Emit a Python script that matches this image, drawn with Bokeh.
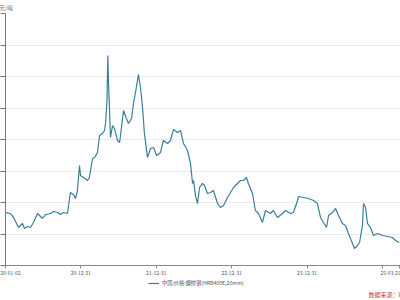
import pandas as pd
from bokeh.plotting import figure
from bokeh.layouts import column
from bokeh.models import FixedTicker, Legend, LegendItem, Title, Label, Range1d
from bokeh.embed import file_html
from bokeh.resources import INLINE

dates = [
    "2020-01-02","2020-01-26","2020-02-10","2020-03-05","2020-03-24","2020-04-03","2020-04-17","2020-05-02",
    "2020-05-16","2020-06-05","2020-06-10","2020-06-29","2020-07-14","2020-08-07","2020-08-21","2020-09-10",
    "2020-09-24","2020-10-09","2020-10-28","2020-11-11","2020-11-26","2020-12-06","2020-12-15","2020-12-25",
    "2020-12-30","2021-01-13","2021-02-02","2021-02-11","2021-02-26","2021-03-08","2021-03-22","2021-04-01",
    "2021-04-15","2021-04-25","2021-04-30","2021-05-07","2021-05-11","2021-05-14","2021-05-24","2021-06-03",
    "2021-06-12","2021-06-27","2021-07-07","2021-07-16","2021-07-26","2021-08-09","2021-08-19","2021-09-03",
    "2021-09-12","2021-09-22","2021-10-06","2021-10-16","2021-10-26","2021-11-04","2021-11-19","2021-12-04",
    "2021-12-18","2022-01-02","2022-01-21","2022-02-04","2022-02-24","2022-03-10","2022-03-25","2022-04-13",
    "2022-04-28","2022-05-12","2022-06-01","2022-06-15","2022-06-25","2022-06-30","2022-07-09","2022-07-19",
    "2022-07-29","2022-08-12","2022-08-22","2022-09-05","2022-09-20","2022-10-04","2022-10-24","2022-11-07",
    "2022-11-22","2022-12-11","2022-12-26","2023-01-09","2023-01-28","2023-02-12","2023-02-26","2023-03-13",
    "2023-03-22","2023-04-11","2023-04-25","2023-05-10","2023-05-29","2023-06-13","2023-07-07","2023-07-21",
    "2023-08-10","2023-09-03","2023-09-18","2023-10-12","2023-10-26","2023-11-15","2023-11-20","2023-12-14",
    "2024-01-07","2024-01-31","2024-02-19","2024-03-05","2024-03-19","2024-04-03","2024-04-13","2024-05-02",
    "2024-05-17","2024-05-31","2024-06-19","2024-07-04","2024-07-18","2024-08-07","2024-08-16","2024-08-31",
    "2024-09-10","2024-09-24","2024-09-29","2024-10-09","2024-10-18","2024-11-02","2024-11-16","2024-12-06",
    "2024-12-30","2025-01-23","2025-02-16","2025-03-03","2025-03-21",
]
prices = [
    3840, 3825, 3762, 3603, 3667, 3587, 3619, 3603,
    3683, 3825, 3810, 3746, 3810, 3825, 3857, 3841,
    3810, 3841, 3825, 4159, 4127, 4063, 4190, 4587,
    4429, 4397, 4349, 4397, 4698, 4714, 4794, 5063,
    5095, 5143, 5254, 5619, 6333, 5937, 5032, 5222,
    5175, 4984, 4952, 5190, 5460, 5333, 5254, 5333,
    5571, 5746, 6032, 5825, 5508, 5095, 4714, 4857,
    4873, 4746, 4794, 4984, 4937, 4984, 5159, 5111,
    5143, 4937, 4825, 4619, 4302, 4349, 4111, 3984,
    4238, 4302, 4270, 4143, 4159, 4190, 3984, 3921,
    3952, 4079, 4159, 4238, 4302, 4349, 4349, 4397,
    4302, 4143, 3873, 3825, 3683, 3873, 3825, 3873,
    3762, 3825, 3873, 3825, 3841, 4032, 4095, 4079,
    4063, 4032, 3984, 3762, 3683, 3603, 3794, 3841,
    3905, 3794, 3667, 3635, 3508, 3349, 3270, 3317,
    3365, 3635, 3984, 3921, 3667, 3603, 3476, 3508,
    3476, 3460, 3444, 3397, 3365,
]

tick_dates = ["2020-01-02", "2020-12-31", "2021-12-31", "2022-12-31", "2023-12-31", "2024-12-31", "2025-03-21"]
tick_labels = ["20-01-02", "20-12-31", "21-12-31", "22-12-31", "23-12-31", "", "25-03-21"]
y_ticks = [3000, 3500, 4000, 4500, 5000, 5500, 6000, 6500, 7000]
series_name = "中国:价格:螺纹钢(HRB400E,20mm)"
unit_text = "元/吨"
source_text = "数据来源：Wind"

FONT = "Noto Sans CJK SC"
LINE_COLOR = "#3a7f9a"

x = pd.to_datetime(dates)
tick_ms = [float(pd.Timestamp(d).value // 10**6) for d in tick_dates]
x_rng = Range1d(pd.Timestamp("2020-01-02"), pd.Timestamp("2025-03-27"))

# ---- main chart ----
p = figure(width=400, height=278, x_axis_type="datetime", output_backend="svg",
           toolbar_location=None, x_range=x_rng, y_range=Range1d(3000, 7000))
p.min_border_left = 5
p.min_border_right = 0
p.min_border_top = 13
p.min_border_bottom = 13
p.outline_line_color = None
p.background_fill_color = "white"
p.border_fill_color = "white"

r = p.line(x, prices, line_color=LINE_COLOR, line_width=1.2)

p.xaxis.ticker = FixedTicker(ticks=tick_ms)
p.xaxis.major_label_overrides = {t: l for t, l in zip(tick_ms, tick_labels)}
p.xaxis.minor_tick_line_color = None
p.xaxis.major_tick_out = 3
p.xaxis.major_tick_in = 0
p.xaxis.major_label_standoff = 2
p.xaxis.major_label_text_font = FONT
p.xaxis.major_label_text_font_size = "5px"
p.xaxis.major_label_text_color = "#555555"
p.xaxis.axis_line_color = "#888888"
p.xaxis.major_tick_line_color = "#888888"

p.yaxis.ticker = FixedTicker(ticks=y_ticks)
p.yaxis.minor_tick_line_color = None
p.yaxis.major_tick_out = 5
p.yaxis.major_tick_in = 0
p.yaxis.major_label_standoff = 0
p.yaxis.major_label_text_font_size = "0px"
p.yaxis.axis_line_color = "#777777"
p.yaxis.major_tick_line_color = "#777777"

p.xgrid.grid_line_color = None
p.ygrid.grid_line_color = "#ebebeb"
p.ygrid.ticker = FixedTicker(ticks=y_ticks)

unit = Title(text=unit_text, align="left", text_font=FONT, text_font_size="5.5px",
             text_color="#666666", text_font_style="normal", standoff=3, offset=-6)
p.add_layout(unit, "above")

# ---- footer: legend + source ----
f = figure(width=400, height=20, x_axis_type="datetime", output_backend="svg",
           toolbar_location=None, x_range=x_rng, y_range=Range1d(0, 1),
           x_axis_location=None, y_axis_location=None)
f.min_border_left = 0
f.min_border_right = 0
f.min_border_top = 0
f.min_border_bottom = 0
f.outline_line_color = None
f.xgrid.grid_line_color = None
f.ygrid.grid_line_color = None
r2 = f.line(x, prices, line_color=LINE_COLOR, line_width=1.2)

legend = Legend(items=[LegendItem(label=series_name, renderers=[r2])], location=(143, 12),
                orientation="horizontal")
legend.label_text_font = FONT
legend.label_text_font_size = "5.2px"
legend.label_text_color = "#555555"
legend.glyph_width = 11
legend.glyph_height = 6
legend.label_standoff = 3
legend.padding = 0
legend.margin = 0
legend.spacing = 0
legend.label_height = 6
legend.border_line_color = None
legend.background_fill_alpha = 0
f.add_layout(legend)

f.add_layout(Label(x=363, y=4, x_units="screen", y_units="screen", text=source_text,
                   text_align="left", text_baseline="middle", text_font=FONT,
                   text_font_size="6px", text_color="#c8403a"))

# ---- dark bottom edge ----
s = figure(width=400, height=2, output_backend="svg", toolbar_location=None,
           x_axis_location=None, y_axis_location=None,
           background_fill_color="#333333", border_fill_color="#333333")
s.min_border_left = 0
s.min_border_right = 0
s.min_border_top = 0
s.min_border_bottom = 0
s.outline_line_color = None
s.xgrid.grid_line_color = None
s.ygrid.grid_line_color = None

layout = column(p, f, s, spacing=0)
open("out.html", "w").write(file_html(layout, INLINE))
